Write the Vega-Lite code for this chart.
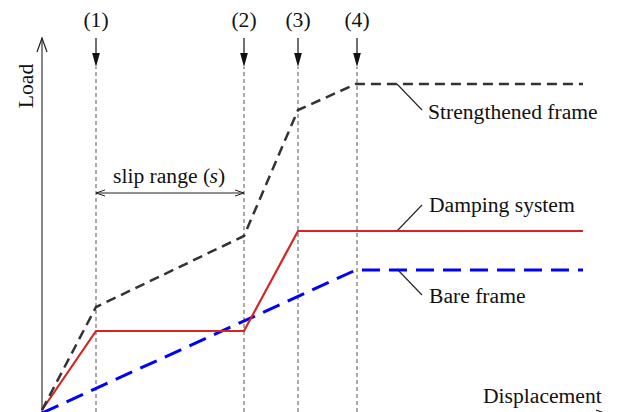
{
  "$schema": "https://vega.github.io/schema/vega-lite/v6.json",
  "width": 627,
  "height": 412,
  "padding": 0,
  "autosize": {"type": "none"},
  "background": "white",
  "config": {"view": {"stroke": null}, "text": {"font": "Liberation Serif", "fontSize": 21.6, "color": "#111"}},
  "encoding": {
    "x": {"field": "x", "type": "quantitative", "scale": {"domain": [-42, 585], "nice": false, "zero": false}, "axis": null},
    "y": {"field": "y", "type": "quantitative", "scale": {"domain": [-2, 410], "nice": false, "zero": false}, "axis": null}
  },
  "layer": [
    {
      "data": {"values": [{"x": 54, "y": -2, "y2": 343}, {"x": 202, "y": -2, "y2": 343}, {"x": 256, "y": -2, "y2": 343}, {"x": 315, "y": -2, "y2": 343}]},
      "mark": {"type": "rule", "color": "#666", "strokeWidth": 1.1, "strokeDash": [4, 3]},
      "encoding": {"y2": {"field": "y2"}}
    },
    {
      "data": {"values": [{"x": 54, "y": 352, "y2": 372}, {"x": 202, "y": 352, "y2": 372}, {"x": 256, "y": 352, "y2": 372}, {"x": 315, "y": 352, "y2": 372}]},
      "mark": {"type": "rule", "color": "#111", "strokeWidth": 1.2},
      "encoding": {"y2": {"field": "y2"}}
    },
    {
      "data": {"values": [{"x": 54, "y": 350}, {"x": 202, "y": 350}, {"x": 256, "y": 350}, {"x": 315, "y": 350}]},
      "mark": {"type": "point", "shape": "M-0.55,-1L0.55,-1L0,1Z", "size": 196, "filled": true, "color": "#111", "opacity": 1}
    },
    {
      "data": {"values": [
        {"x": 0, "y": -2, "x2": 0, "y2": 372},
        {"x": 0, "y": -5, "x2": 568, "y2": -5},
        {"x": 54, "y": 217, "x2": 202, "y2": 217},
        {"x": 355, "y": 326, "x2": 380, "y2": 300},
        {"x": 355, "y": 179, "x2": 380, "y2": 205},
        {"x": 355, "y": 141, "x2": 380, "y2": 115}
      ]},
      "mark": {"type": "rule", "color": "#222", "strokeWidth": 1.1},
      "encoding": {"x2": {"field": "x2"}, "y2": {"field": "y2"}}
    },
    {
      "data": {"values": [{"x": 0, "y": 372}]},
      "mark": {"type": "point", "shape": "M-0.714,2L0,0L0.714,2", "size": 196, "filled": false, "stroke": "#222", "strokeWidth": 1.2, "opacity": 1}
    },
    {
      "data": {"values": [{"x": 568, "y": -5}]},
      "mark": {"type": "point", "shape": "M-2,-0.714L0,0L-2,0.714", "size": 196, "filled": false, "stroke": "#222", "strokeWidth": 1.2, "opacity": 1}
    },
    {
      "data": {"values": [{"x": 54, "y": 217}]},
      "mark": {"type": "point", "shape": "M2,-0.67L0,0L2,0.67", "size": 81, "filled": false, "stroke": "#222", "strokeWidth": 1, "opacity": 1}
    },
    {
      "data": {"values": [{"x": 202, "y": 217}]},
      "mark": {"type": "point", "shape": "M-2,-0.67L0,0L-2,0.67", "size": 81, "filled": false, "stroke": "#222", "strokeWidth": 1, "opacity": 1}
    },
    {
      "data": {"values": [{"x": 0, "y": -3}, {"x": 314, "y": 140}, {"x": 541, "y": 140}]},
      "mark": {"type": "line", "color": "#0000ff", "strokeWidth": 3, "strokeDash": [18, 9]}
    },
    {
      "data": {"values": [{"x": 0, "y": 0}, {"x": 54, "y": 79}, {"x": 202, "y": 79}, {"x": 256, "y": 179}, {"x": 541, "y": 179}]},
      "mark": {"type": "line", "color": "#d42424", "strokeWidth": 2.2}
    },
    {
      "data": {"values": [{"x": 0, "y": 0}, {"x": 54, "y": 103}, {"x": 202, "y": 174}, {"x": 256, "y": 300}, {"x": 314, "y": 326}, {"x": 541, "y": 326}]},
      "mark": {"type": "line", "color": "#333", "strokeWidth": 2.5, "strokeDash": [10, 6]}
    },
    {
      "data": {"values": [
        {"x": 386, "y": 291, "t": "Strengthened frame"},
        {"x": 387, "y": 198, "t": "Damping system"},
        {"x": 387, "y": 107, "t": "Bare frame"},
        {"x": 441, "y": 7, "t": "Displacement"},
        {"x": 71, "y": 227, "t": "slip range ("},
        {"x": 176, "y": 227, "t": ")"}
      ]},
      "mark": {"type": "text", "align": "left", "baseline": "alphabetic"},
      "encoding": {"text": {"field": "t"}}
    },
    {
      "data": {"values": [{"x": 167.5, "y": 227, "t": "s"}]},
      "mark": {"type": "text", "align": "left", "baseline": "alphabetic", "fontStyle": "italic"},
      "encoding": {"text": {"field": "t"}}
    },
    {
      "data": {"values": [
        {"x": 54, "y": 383, "t": "(1)"},
        {"x": 202, "y": 383, "t": "(2)"},
        {"x": 256, "y": 383, "t": "(3)"},
        {"x": 315, "y": 383, "t": "(4)"}
      ]},
      "mark": {"type": "text", "align": "center", "baseline": "alphabetic"},
      "encoding": {"text": {"field": "t"}}
    },
    {
      "data": {"values": [{"x": -9, "y": 324, "t": "Load"}]},
      "mark": {"type": "text", "align": "center", "baseline": "alphabetic", "angle": 270},
      "encoding": {"text": {"field": "t"}}
    }
  ]
}
